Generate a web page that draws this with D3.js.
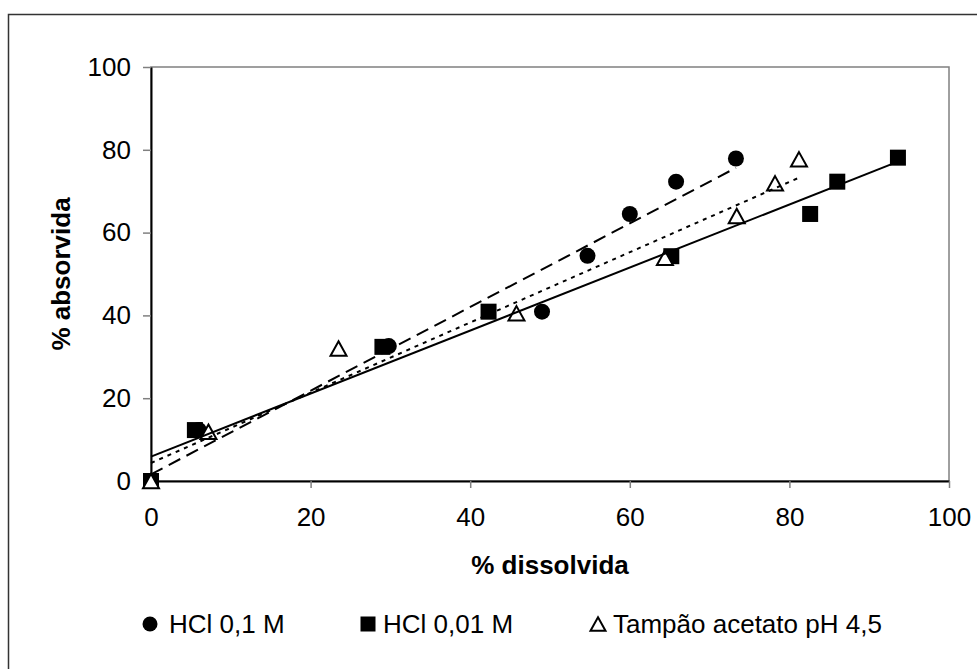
<!DOCTYPE html>
<html>
<head>
<meta charset="utf-8">
<script src="https://cdn.jsdelivr.net/npm/d3@7"></script>
<style>
  body { margin: 0; background: #fff; }
  svg text { font-family: "Liberation Sans", Arial, sans-serif; fill: #000; }
</style>
</head>
<body>
<div id="chart"></div>
<script>
// series
const seriesNames = ['HCl 0,1 M', 'HCl 0,01 M', 'Tampão acetato pH 4,5'];

const hcl01X = [0, 6.0, 29.8, 49.0, 54.7, 60.0, 65.8, 73.3];
const hcl01Y = [0, 12.3, 32.6, 40.9, 54.4, 64.5, 72.3, 77.9];

const hcl001X = [0, 5.5, 29.0, 42.3, 65.2, 82.6, 86.0, 93.6];
const hcl001Y = [0, 12.3, 32.4, 40.9, 54.3, 64.5, 72.3, 78.1];

const tampaoX = [0, 7.2, 23.5, 45.8, 64.4, 73.4, 78.2, 81.2];
const tampaoY = [0, 11.9, 32.0, 40.5, 53.9, 64.0, 71.9, 77.7];

const xTicks = [0, 20, 40, 60, 80, 100];
const yTicks = [0, 20, 40, 60, 80, 100];

const W = 977, H = 669;
const margin = {top: 67, right: 28, bottom: 188, left: 151};
const width = W - margin.left - margin.right;
const height = H - margin.top - margin.bottom;

const svg = d3.select('#chart').append('svg')
  .attr('width', W)
  .attr('height', H);

// outer chart border (runs off the picture on right and bottom)
svg.append('rect')
  .attr('x', 8.5).attr('y', 14.5)
  .attr('width', 1000).attr('height', 700)
  .attr('fill', 'none')
  .attr('stroke', '#333')
  .attr('stroke-width', 1.5);

const g = svg.append('g')
  .attr('transform', `translate(${margin.left},${margin.top})`);

const x = d3.scaleLinear().domain([0, 100]).range([0, width]);
const y = d3.scaleLinear().domain([0, 100]).range([height, 0]);

// plot area frame (grey)
g.append('rect')
  .attr('width', width).attr('height', height)
  .attr('fill', 'none')
  .attr('stroke', '#808080')
  .attr('stroke-width', 1.5);

const xAxis = g.append('g')
  .attr('transform', `translate(0,${height})`)
  .call(d3.axisBottom(x).tickValues(xTicks).tickSize(7).tickSizeOuter(0).tickPadding(20));
const yAxis = g.append('g')
  .call(d3.axisLeft(y).tickValues(yTicks).tickSize(8).tickSizeOuter(0).tickPadding(12));

[xAxis, yAxis].forEach(a => {
  a.select('.domain').attr('stroke', '#000').attr('stroke-width', 2);
  a.selectAll('.tick line').attr('stroke', '#808080').attr('stroke-width', 1.5);
  a.selectAll('.tick text')
    .attr('font-size', 26)
    .attr('font-family', '"Liberation Sans", Arial, sans-serif');
});
xAxis.selectAll('.tick text').attr('dy', '0.71em');

// axis titles
svg.append('text')
  .attr('x', margin.left + width / 2)
  .attr('y', 574)
  .attr('text-anchor', 'middle')
  .attr('font-size', 26)
  .attr('font-weight', 'bold')
  .text('% dissolvida');

svg.append('text')
  .attr('transform', `translate(70,${margin.top + height / 2}) rotate(-90)`)
  .attr('text-anchor', 'middle')
  .attr('font-size', 26)
  .attr('font-weight', 'bold')
  .text('% absorvida');

const series = [
  {name: seriesNames[0], xs: hcl01X, ys: hcl01Y, marker: 'circle', dash: '13,7'},
  {name: seriesNames[1], xs: hcl001X, ys: hcl001Y, marker: 'square', dash: null},
  {name: seriesNames[2], xs: tampaoX, ys: tampaoY, marker: 'triangle', dash: '4,5'}
];

// least squares trend line per series
function trend(xs, ys) {
  const mx = d3.mean(xs), my = d3.mean(ys);
  let sxy = 0, sxx = 0;
  xs.forEach((v, i) => { sxy += (v - mx) * (ys[i] - my); sxx += (v - mx) * (v - mx); });
  const b = sxy / sxx, a = my - b * mx;
  const x0 = d3.min(xs), x1 = d3.max(xs);
  return [[x0, a + b * x0], [x1, a + b * x1]];
}

function drawMarker(sel, type, cx, cy, s) {
  if (type === 'circle') {
    sel.append('circle').attr('cx', cx).attr('cy', cy).attr('r', s / 2).attr('fill', '#000');
  } else if (type === 'square') {
    sel.append('rect').attr('x', cx - s / 2).attr('y', cy - s / 2)
      .attr('width', s).attr('height', s).attr('fill', '#000');
  } else {
    const h = s * 0.9;
    sel.append('path')
      .attr('d', `M${cx},${cy - h / 2}L${cx + s / 2},${cy + h / 2}L${cx - s / 2},${cy + h / 2}Z`)
      .attr('fill', '#fff').attr('stroke', '#000').attr('stroke-width', 2)
      .attr('stroke-linejoin', 'miter');
  }
}

const markLayer = g.append('g');
series.forEach(s => {
  s.xs.forEach((v, i) => drawMarker(markLayer, s.marker, x(v), y(s.ys[i]), 16));
});

const line = d3.line().x(d => x(d[0])).y(d => y(d[1]));
series.forEach(s => {
  g.append('path')
    .datum(trend(s.xs, s.ys))
    .attr('d', line)
    .attr('fill', 'none')
    .attr('stroke', '#000')
    .attr('stroke-width', 2)
    .attr('stroke-dasharray', s.dash);
});

// legend
const legendY = 624;
const legendPos = [{m: 150, t: 169}, {m: 368, t: 383}, {m: 598, t: 613}];
const legend = svg.append('g');
series.forEach((s, i) => {
  drawMarker(legend, s.marker, legendPos[i].m, legendY, 15);
  legend.append('text')
    .attr('x', legendPos[i].t)
    .attr('y', legendY + 9)
    .attr('font-size', 26)
    .text(s.name);
});
</script>
</body>
</html>
